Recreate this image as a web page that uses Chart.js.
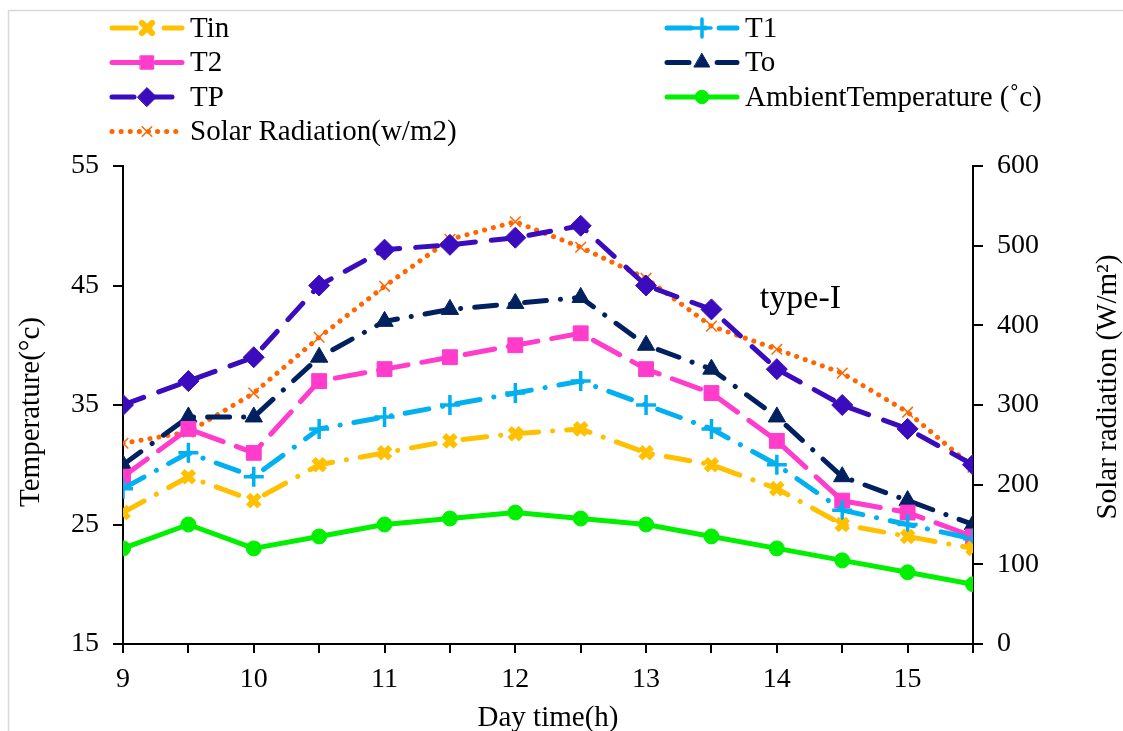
<!DOCTYPE html>
<html lang="en">
<head>
  <meta charset="UTF-8">
  <title>type-I temperatures and solar radiation</title>
  <script src="https://cdn.jsdelivr.net/npm/chart.js"></script>
  <style>
    body { margin: 0; padding: 0; background: #fff; }
    #wrap { width: 1123px; height: 731px; }
  </style>
</head>
<body>
  <div id="wrap"><canvas id="chart" width="1123" height="731"></canvas></div>

  <script>
    // hours of the day (x values)
    const hours = [9, 9.5, 10, 10.5, 11, 11.5, 12, 12.5, 13, 13.5, 14, 14.5, 15, 15.5];

    // temperatures (°C), left axis
    const tin     = [26, 29, 27, 30, 31, 32, 32.6, 33, 31, 30, 28, 25, 24, 23];
    const t1      = [28, 31, 29, 33, 34, 35, 36, 37, 35, 33, 30, 26.2, 25, 23.8];
    const t2      = [29, 33, 31, 37, 38, 39, 40, 41, 38, 36, 32, 27, 26, 24];
    const tOut    = [30, 34, 34, 39, 42, 43, 43.5, 44, 40, 38, 34, 29, 27, 25];
    const tp      = [35, 37, 39, 45, 48, 48.4, 49, 50, 45, 43, 38, 35, 33, 30];
    const ambient = [23, 25, 23, 24, 25, 25.5, 26, 25.5, 25, 24, 23, 22, 21, 20];

    // solar radiation (W/m2), right axis
    const solar = [252, 266, 315, 385, 449, 508, 530, 498, 459, 399, 370, 340, 291, 222];

    const seriesNames = ["Tin", "T1", "T2", "To", "TP", "AmbientTemperature (˚c)", "Solar Radiation(w/m2)"];

    const FONT = "'Liberation Serif', 'Times New Roman', serif";
    const pts = arr => arr.map((v, i) => ({ x: hours[i], y: v }));

    function lineSet(label, data, color, dash, style, radius, pw, axis) {
      return {
        label: label,
        data: pts(data),
        yAxisID: axis || "y",
        borderColor: color,
        backgroundColor: color,
        borderWidth: 5,
        borderDash: dash,
        borderCapStyle: "round",
        borderJoinStyle: "round",
        pointStyle: style,
        pointRadius: radius,
        pointBorderWidth: pw,
        pointBackgroundColor: color,
        pointBorderColor: color,
        tension: 0,
        fill: false
      };
    }

    const datasets = [
      lineSet(seriesNames[0], tin, "#FFC000", [24, 14, 0.1, 14], "crossRot", 8, 6),
      lineSet(seriesNames[1], t1, "#00B0F0", [24, 14, 0.1, 14], "cross", 10, 3.5),
      lineSet(seriesNames[2], t2, "#FF3CCB", [30, 14], "rect", 10.5, 1),
      lineSet(seriesNames[3], tOut, "#002060", [22, 14, 0.1, 14], "triangle", 10, 1),
      lineSet(seriesNames[4], tp, "#3B0CBD", [22, 16], "rectRot", 10.5, 1),
      lineSet(seriesNames[5], ambient, "#00F000", [], "circle", 7.5, 1),
      lineSet(seriesNames[6], solar, "#FF6600", [0.1, 9], "crossRot", 7.5, 1.5, "y1")
    ];

    // legend in two columns above the plot
    const legendBox = {
      id: "legendBox",
      afterDraw(chart) {
        const ctx = chart.ctx;
        const colX = [112, 667];
        ctx.save();
        chart.data.datasets.forEach((ds, i) => {
          const x0 = colX[i % 2];
          const y = 28 + Math.floor(i / 2) * 34.5;
          ctx.save();
          ctx.strokeStyle = ds.borderColor;
          ctx.lineWidth = ds.borderWidth;
          ctx.lineCap = "round";
          ctx.setLineDash(ds.borderDash);
          ctx.beginPath();
          ctx.moveTo(x0, y);
          ctx.lineTo(x0 + 70, y);
          ctx.stroke();
          ctx.setLineDash([]);
          ctx.fillStyle = ds.pointBackgroundColor;
          ctx.strokeStyle = ds.pointBorderColor;
          ctx.lineWidth = ds.pointBorderWidth;
          Chart.helpers.drawPoint(ctx, {
            pointStyle: ds.pointStyle, radius: ds.pointRadius * 0.9, rotation: 0, borderWidth: ds.pointBorderWidth
          }, x0 + 35, y);
          ctx.restore();
          ctx.fillStyle = "#000";
          ctx.font = "29px " + FONT;
          ctx.textAlign = "left";
          ctx.textBaseline = "middle";
          ctx.fillText(ds.label, x0 + 78, y + 1);
        });
        ctx.restore();
      }
    };

    // axis titles, annotation and the outer frame
    const extras = {
      id: "extras",
      afterDraw(chart) {
        const ctx = chart.ctx;
        const xs = chart.scales.x, ys = chart.scales.y;
        ctx.save();
        ctx.strokeStyle = "#d9d9d9";
        ctx.lineWidth = 1.5;
        ctx.strokeRect(8.5, 10.5, 1300, 1000);

        ctx.fillStyle = "#000";
        ctx.font = "29px " + FONT;
        ctx.textAlign = "center";
        ctx.textBaseline = "middle";
        ctx.fillText("Day time(h)", 548, 718);

        ctx.save();
        ctx.translate(31, 412);
        ctx.rotate(-Math.PI / 2);
        ctx.fillText("Temperature(°c)", 0, 0);
        ctx.restore();

        ctx.save();
        ctx.translate(1108, 387);
        ctx.rotate(-Math.PI / 2);
        ctx.fillText("Solar radiation (W/m²)", 0, 0);
        ctx.restore();

        ctx.font = "34px " + FONT;
        ctx.textAlign = "left";
        ctx.textBaseline = "alphabetic";
        ctx.fillText("type-I", xs.getPixelForValue(13.87), ys.getPixelForValue(43.1));
        ctx.restore();
      }
    };

    const axisGrid = { display: true, drawOnChartArea: false, drawTicks: true, tickLength: 10, color: "#000", lineWidth: 2 };
    const axisBorder = { display: true, color: "#000", width: 2 };
    const tickFont = { family: FONT, size: 28 };

    new Chart(document.getElementById("chart"), {
      type: "line",
      data: { datasets: datasets },
      options: {
        responsive: false,
        animation: false,
        layout: { padding: { top: 166, left: 0, right: 0, bottom: 0 } },
        plugins: { legend: { display: false }, tooltip: { enabled: false } },
        scales: {
          x: {
            type: "linear",
            min: 9,
            max: 15.5,
            grid: Object.assign({}, axisGrid, { tickLength: 9 }),
            border: axisBorder,
            ticks: {
              stepSize: 0.5,
              autoSkip: false,
              maxRotation: 0,
              padding: 10,
              color: "#000",
              font: tickFont,
              callback: v => Number.isInteger(v) ? String(v) : ""
            },
            afterFit: s => { s.height = 87; }
          },
          y: {
            position: "left",
            min: 15,
            max: 55,
            grid: axisGrid,
            border: axisBorder,
            ticks: { stepSize: 10, padding: 14, color: "#000", font: tickFont },
            afterFit: s => { s.width = 123; }
          },
          y1: {
            position: "right",
            min: 0,
            max: 600,
            grid: axisGrid,
            border: axisBorder,
            ticks: { stepSize: 100, padding: 14, color: "#000", font: tickFont },
            afterFit: s => { s.width = 150; }
          }
        }
      },
      plugins: [legendBox, extras]
    });
  </script>
</body>
</html>
